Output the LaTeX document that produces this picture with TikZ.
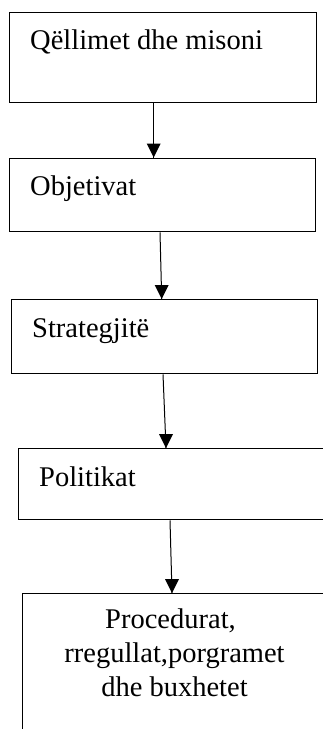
\documentclass[tikz,border=0pt]{standalone}
\usepackage{fontspec}
\setmainfont{Liberation Serif}
\tikzset{
  box/.style={draw=black, line width=1.3pt, rectangle, inner sep=0pt, anchor=north west},
  lbl/.style={anchor=base west, inner sep=0pt, font=\fontsize{28.5}{34.2}\selectfont},
  clbl/.style={anchor=base, inner sep=0pt, font=\fontsize{28.5}{34.2}\selectfont},
  conn/.style={draw=black, line width=1pt},
  tip/.style={fill=black}
}
\begin{document}
\begin{tikzpicture}[x=1pt,y=-1pt]
\useasboundingbox (0,0) rectangle (323,729);
% boxes
\node[box, minimum width=306.5pt, minimum height=90pt] (b1) at (9,12) {};
\node[box, minimum width=306pt, minimum height=73.5pt] (b2) at (9,157.5) {};
\node[box, minimum width=306pt, minimum height=74pt] (b3) at (11,299) {};
\begin{scope}
\clip (0,0) rectangle (323,729);
\node[box, minimum width=330pt, minimum height=71pt] (b4) at (18,448) {};
\node[box, minimum width=330pt, minimum height=170pt] (b5) at (22,593) {};
\end{scope}
% texts
\node[lbl] (t1) at (30,49) {Qëllimet dhe misoni};
\node[lbl] (t2) at (30,195) {Objetivat};
\node[lbl] (t3) at (32,337) {Strategjitë};
\node[lbl] (t4) at (39,486) {Politikat};
\node[clbl] (t5a) at (170.5,628.3) {Procedurat,};
\node[clbl] (t5b) at (174.5,662.5) {rregullat,porgramet};
\node[clbl] (t5c) at (174.5,696.7) {dhe buxhetet};
% connector ends
\coordinate (e1) at ([xshift=144.7pt]b2.north west);
\coordinate (e2) at ([xshift=150.7pt]b3.north west);
\coordinate (e3) at ([xshift=148pt]b4.north west);
\coordinate (e4) at ([xshift=150pt]b5.north west);
% connectors
\draw[conn] ([xshift=144.7pt]b1.south west) -- (e1);
\draw[conn] ([xshift=151pt]b2.south west) -- (e2);
\draw[conn] ([xshift=152pt]b3.south west) -- (e3);
\draw[conn] ([xshift=152pt]b4.south west) -- (e4);
% arrowheads
\foreach \e in {e1,e2,e3,e4}
  \fill[tip] (\e) -- ++(-7,-14) -- ++(14,0) -- cycle;
\end{tikzpicture}
\end{document}
